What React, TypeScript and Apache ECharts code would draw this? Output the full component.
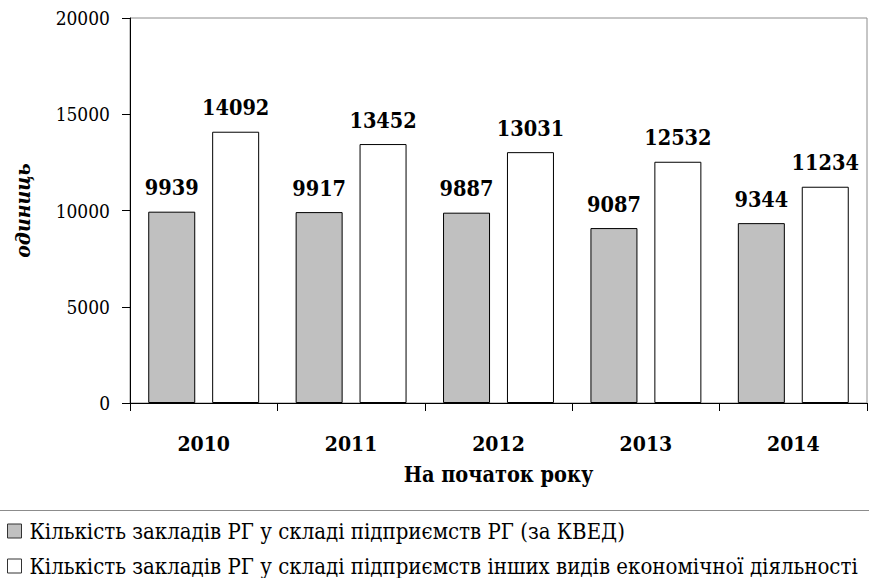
import React, { useEffect, useRef } from "react";
import * as echarts from "echarts";

const categories = ["2010", "2011", "2012", "2013", "2014"];
const seriesNames = [
  "Кількість закладів РГ у складі підприємств РГ (за КВЕД)",
  "Кількість закладів РГ у складі підприємств інших видів економічної діяльності",
];
const rgValues = [9939, 9917, 9887, 9087, 9344];
const otherValues = [14092, 13452, 13031, 12532, 11234];
const yTicks = { min: 0, max: 20000, interval: 5000 };
const xAxisTitle = "На початок року";
const yAxisTitle = "одиниць";

const FONT = "DejaVu Serif Condensed";

export default function App() {
  const ref = useRef<HTMLDivElement>(null);
  useEffect(() => {
    if (!ref.current) return;
    const chart = echarts.init(ref.current, null, { renderer: "svg" });
    const label = {
      show: true,
      position: "top",
      distance: 13,
      fontFamily: FONT,
      fontWeight: "bold",
      fontSize: 21.5,
      color: "#000",
    };
    chart.setOption({
      animation: false,
      backgroundColor: "#fff",
      textStyle: { fontFamily: FONT },
      grid: {
        left: 130,
        right: 2,
        top: 18,
        bottom: 175,
        show: true,
        borderColor: "#8c8c8c",
        borderWidth: 1,
        containLabel: false,
        outerBoundsMode: "none",
      },
      xAxis: {
        type: "category",
        data: categories,
        name: xAxisTitle,
        nameLocation: "middle",
        nameGap: 60,
        nameTextStyle: { fontFamily: FONT, fontWeight: "bold", fontSize: 21.5, color: "#000" },
        axisLine: { lineStyle: { color: "#000", width: 1 } },
        axisTick: { show: true, length: 8, lineStyle: { color: "#000" } },
        axisLabel: { fontFamily: FONT, fontWeight: "bold", fontSize: 21, color: "#000", margin: 30 },
        splitLine: { show: false },
      },
      yAxis: {
        type: "value",
        min: yTicks.min,
        max: yTicks.max,
        interval: yTicks.interval,
        name: yAxisTitle,
        nameLocation: "middle",
        nameGap: 97,
        nameRotate: 90,
        nameTextStyle: { fontFamily: FONT, fontWeight: "bold", fontStyle: "italic", fontSize: 21, color: "#000" },
        axisLine: { show: true, lineStyle: { color: "#000", width: 1 } },
        axisTick: { show: true, length: 8, lineStyle: { color: "#000" } },
        axisLabel: {
          fontFamily: FONT,
          fontSize: 19,
          color: "#000",
          margin: 20,
          formatter: (v: number) => String(v),
        },
        splitLine: { show: false },
      },
      legend: {
        orient: "vertical",
        left: 7,
        top: 520,
        bottom: 0,
        padding: 0,
        itemWidth: 14,
        itemHeight: 14,
        itemGap: 13,
        icon: "rect",
        itemStyle: { borderColor: "#333", borderWidth: 1 },
        textStyle: { fontFamily: FONT, fontSize: 22, color: "#000", padding: [0, 0, 0, 3] },
        data: seriesNames,
      },
      graphic: [
        {
          type: "line",
          shape: { x1: 0, y1: 510.5, x2: 869, y2: 510.5 },
          style: { stroke: "#8c8c8c", lineWidth: 1 },
        },
      ],
      series: [
        {
          name: seriesNames[0],
          type: "bar",
          data: rgValues,
          barWidth: 47,
          barGap: "36%",
          itemStyle: { color: "#c0c0c0", borderColor: "#000", borderWidth: 1 },
          label,
        },
        {
          name: seriesNames[1],
          type: "bar",
          data: otherValues,
          barWidth: 47,
          barGap: "36%",
          itemStyle: { color: "#ffffff", borderColor: "#000", borderWidth: 1 },
          label,
        },
      ],
    });
    return () => chart.dispose();
  }, []);
  return <div ref={ref} style={{ width: 869, height: 578, position: "absolute", left: 0, top: 0 }} />;
}
